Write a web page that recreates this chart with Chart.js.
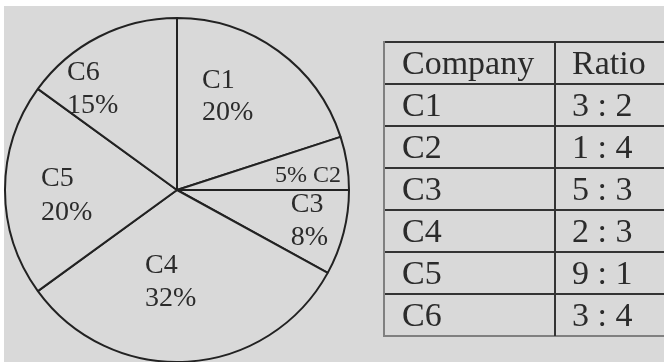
<!DOCTYPE html>
<html>
<head>
<meta charset="utf-8">
<script src="https://cdn.jsdelivr.net/npm/chart.js@4.4.1/dist/chart.umd.min.js"></script>
<style>
  html, body { margin:0; padding:0; background:#ffffff; width:664px; height:362px; overflow:hidden; }
  #bg { position:absolute; left:4px; top:6px; width:660px; height:356px; background:#d9d9d9; }
  #pieBox { position:absolute; left:4px; top:17px; width:346px; height:346px; }
  #tbl { position:absolute; left:0; top:0; width:664px; height:362px; }
  .hl { position:absolute; height:2px; background:#333; }
  .vl { position:absolute; width:2px; background:#333; }
  .cell { position:absolute; font-family:"Liberation Serif","Times New Roman",serif; font-size:34px; line-height:42px; height:42px; color:#2b2b2b; white-space:pre; }
</style>
</head>
<body>
<div id="bg"></div>
<div id="pieBox"><canvas id="c" width="346" height="346"></canvas></div>
<div id="tbl"></div>
<script>
// ---- data ----
const companies = ['C1', 'C2', 'C3', 'C4', 'C5', 'C6'];
const shares = [20, 5, 8, 32, 20, 15];           // percent of pie
const tableHeader = ['Company', 'Ratio'];
const ratios = ['3 : 2', '1 : 4', '5 : 3', '2 : 3', '9 : 1', '3 : 4'];

// label placement inside each slice: [fraction along slice angle, fraction of radius, font px, line gap, single line?]
const labelPlace = [
  [0.192, 0.610, 28, 32, false],
  [0.75, 0.571, 24, 0, true],
  [0.375, 0.674, 28, 33, false],
  [0.715, 0.516, 28, 33, false],
  [0.524, 0.791, 28, 34, false],
  [0.167, 0.905, 28, 33, false]
];

const sliceLabels = {
  id: 'sliceLabels',
  afterDatasetsDraw(chart) {
    const ctx = chart.ctx;
    const meta = chart.getDatasetMeta(0);
    ctx.save();
    ctx.fillStyle = '#2b2b2b';
    ctx.textAlign = 'left';
    ctx.textBaseline = 'alphabetic';
    meta.data.forEach((arc, i) => {
      const p = arc.getProps(['x', 'y', 'startAngle', 'endAngle', 'outerRadius'], true);
      const [t, k, fs, gap, single] = labelPlace[i];
      const a = p.startAngle + t * (p.endAngle - p.startAngle);
      const r = k * p.outerRadius;
      const x = p.x + r * Math.cos(a);
      const y = p.y + r * Math.sin(a);
      ctx.font = fs + 'px "Liberation Serif", "Times New Roman", serif';
      const pct = shares[i] + '%';
      if (single) {
        ctx.fillText(pct + ' ' + companies[i], x, y);
      } else {
        ctx.fillText(companies[i], x, y);
        ctx.fillText(pct, x, y + gap);
      }
    });
    ctx.restore();
  }
};

new Chart(document.getElementById('c'), {
  type: 'pie',
  data: {
    labels: companies,
    datasets: [{
      data: shares,
      backgroundColor: '#d9d9d9',
      borderColor: '#222222',
      borderWidth: 2,
      hoverOffset: 0
    }]
  },
  options: {
    responsive: false,
    animation: false,
    events: [],
    layout: { padding: 0 },
    plugins: { legend: { display: false }, tooltip: { enabled: false } }
  },
  plugins: [sliceLabels]
});

// ---- table ----
(function buildTable() {
  const host = document.getElementById('tbl');
  const left = 384, top = 42, rowH = 42, divX = 554;
  const rows = [tableHeader].concat(companies.map((c, i) => [c, ratios[i]]));
  const n = rows.length;
  const bottom = top + n * rowH;
  function add(cls, style, text) {
    const d = document.createElement('div');
    d.className = cls;
    Object.assign(d.style, style);
    if (text !== undefined) d.textContent = text;
    host.appendChild(d);
  }
  for (let i = 0; i < n; i++) {
    add('hl', { left: left + 'px', top: (top + i * rowH - 1) + 'px', width: (664 - left) + 'px' });
    add('cell', { left: '402px', top: (top + i * rowH) + 'px' }, rows[i][0]);
    add('cell', { left: '572px', top: (top + i * rowH) + 'px' }, rows[i][1]);
  }
  add('hl', { left: left + 'px', top: (bottom - 1) + 'px', width: (664 - left) + 'px', background: '#808080' });
  add('vl', { left: (left - 1) + 'px', top: (top - 1) + 'px', height: (n * rowH + 2) + 'px', background: '#808080', width: '1.5px' });
  add('vl', { left: divX + 'px', top: (top - 1) + 'px', height: (n * rowH + 1) + 'px' });
})();
</script>
</body>
</html>
